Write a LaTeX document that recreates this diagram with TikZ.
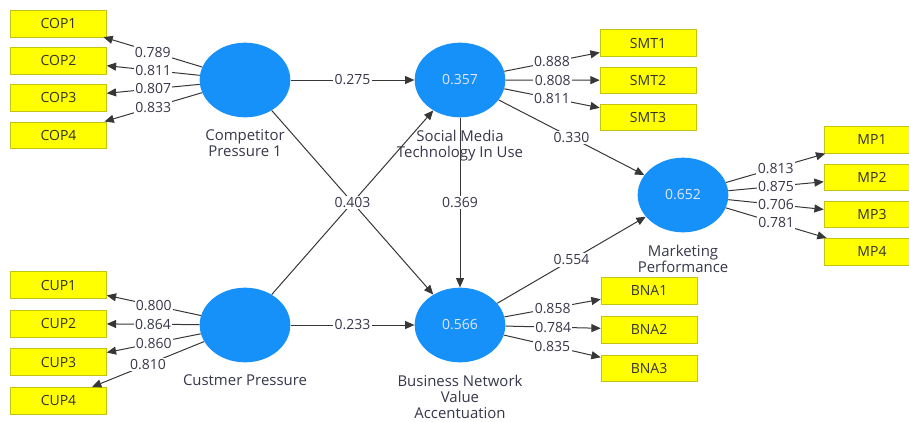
\documentclass[tikz,border=0pt]{standalone}
\usepackage{fontspec}
\setmainfont{Open Sans}
\usepackage{xcolor}
\usetikzlibrary{shapes,arrows.meta,positioning}

\definecolor{lvblue}{RGB}{22,145,250}
\definecolor{mvyellow}{RGB}{255,255,0}
\definecolor{mvborder}{RGB}{195,195,20}
\definecolor{pathgray}{RGB}{55,55,55}
\definecolor{textgray}{RGB}{55,55,75}

\begin{document}
\begin{tikzpicture}[
    x=0.75pt, y=-0.75pt,
    node distance=7.5pt,
    every node/.style={font=\fontsize{10.5}{12}\selectfont},
    latent/.style={ellipse, fill=lvblue, minimum width=68pt, minimum height=56pt, inner sep=0pt, text=white!90!blue},
    indicator/.style={rectangle, draw=mvborder, fill=mvyellow, minimum width=72pt, minimum height=20pt, inner sep=0pt, text=black!80},
    lvname/.style={align=center, text=textgray, inner sep=0pt, font=\fontsize{11.2}{12}\selectfont},
    coef/.style={fill=white, inner sep=1pt, text=textgray},
    arrow/.style={-{Triangle[length=7pt,width=6pt]}, draw=pathgray, line width=0.75pt}
]
    \clip (0,0) rectangle (909,421);

    % Latent variables
    \node[latent] (comp) at (245,80) {};
    \node[latent] (smt) at (460,80) {0.357};
    \node[latent] (mp) at (683,195) {0.652};
    \node[latent] (cup) at (245,325) {};
    \node[latent] (bna) at (460,325) {0.566};

    \node[lvname, below=9pt of comp] (compname) {Competitor\\Pressure 1};
    \node[lvname, below=9pt of smt] (smtname) {Social Media\\Technology In Use};
    \node[lvname, below=9pt of mp] (mpname) {Marketing\\Performance};
    \node[lvname, below=9pt of cup] (cupname) {Custmer Pressure};
    \node[lvname, below=9pt of bna] (bnaname) {Business Network\\Value\\Accentuation};

    % Indicators
    \node[indicator] (cop1) at (58.5,23.5) {COP1};
    \node[indicator, below=of cop1] (cop2) {COP2};
    \node[indicator, below=of cop2] (cop3) {COP3};
    \node[indicator, below=of cop3] (cop4) {COP4};

    \node[indicator] (smt1) at (648,43) {SMT1};
    \node[indicator, below=of smt1] (smt2) {SMT2};
    \node[indicator, below=of smt2] (smt3) {SMT3};

    \node[indicator] (mp1) at (872,140) {MP1};
    \node[indicator, below=of mp1] (mp2) {MP2};
    \node[indicator, below=of mp2] (mp3) {MP3};
    \node[indicator, below=of mp3] (mp4) {MP4};

    \node[indicator] (cup1) at (58.5,285) {CUP1};
    \node[indicator, below=8.5pt of cup1] (cup2) {CUP2};
    \node[indicator, below=8.5pt of cup2] (cup3) {CUP3};
    \node[indicator, below=8.5pt of cup3] (cup4) {CUP4};

    \node[indicator] (bna1) at (649,290.5) {BNA1};
    \node[indicator, below=8.8pt of bna1] (bna2) {BNA2};
    \node[indicator, below=8.8pt of bna2] (bna3) {BNA3};

    % Outer loadings
    \draw[arrow] (comp) -- node[coef] {0.789} (cop1);
    \draw[arrow] (comp) -- node[coef] {0.811} (cop2);
    \draw[arrow] (comp) -- node[coef] {0.807} (cop3);
    \draw[arrow] (comp) -- node[coef] {0.833} (cop4);

    \draw[arrow] (smt) -- node[coef] {0.888} (smt1);
    \draw[arrow] (smt) -- node[coef] {0.808} (smt2);
    \draw[arrow] (smt) -- node[coef] {0.811} (smt3);

    \draw[arrow] (mp) -- node[coef] {0.813} (mp1);
    \draw[arrow] (mp) -- node[coef] {0.875} (mp2);
    \draw[arrow] (mp) -- node[coef] {0.706} (mp3);
    \draw[arrow] (mp) -- node[coef] {0.781} (mp4);

    \draw[arrow] (cup) -- node[coef] {0.800} (cup1);
    \draw[arrow] (cup) -- node[coef] {0.864} (cup2);
    \draw[arrow] (cup) -- node[coef] {0.860} (cup3);
    \draw[arrow] (cup) -- node[coef] {0.810} (cup4);

    \draw[arrow] (bna) -- node[coef] {0.858} (bna1);
    \draw[arrow] (bna) -- node[coef] {0.784} (bna2);
    \draw[arrow] (bna) -- node[coef] {0.835} (bna3);

    % Path coefficients
    \draw[arrow] (comp) -- node[coef] {0.275} (smt);
    \draw[arrow] (cup) -- (smt);
    \draw[arrow] (comp) -- node[coef] {0.403} (bna);
    \draw[arrow] (cup) -- node[coef] {0.233} (bna);
    \draw[arrow] (smt) -- node[coef] {0.369} (bna);
    \draw[arrow] (smt) -- node[coef] {0.330} (mp);
    \draw[arrow] (bna) -- node[coef] {0.554} (mp);
\end{tikzpicture}
\end{document}
